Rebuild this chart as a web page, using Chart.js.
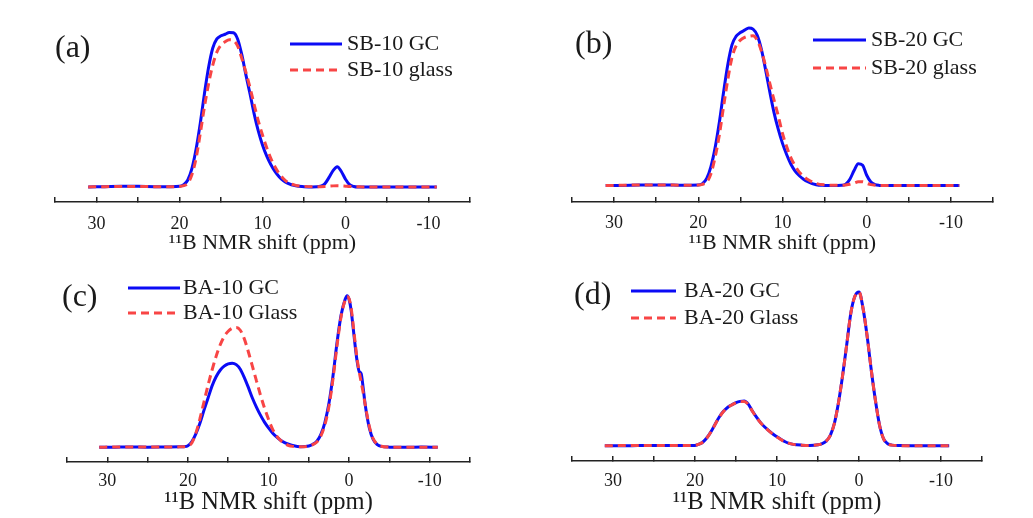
<!DOCTYPE html>
<html>
<head>
<meta charset="utf-8">
<script src="https://cdn.jsdelivr.net/npm/chart.js@4.4.1/dist/chart.umd.min.js"></script>
<style>
  html, body { margin: 0; padding: 0; background: #fff; }
  #fig { position: relative; width: 1033px; height: 518px; background: #fff; }
  .panel { position: absolute; }
</style>
</head>
<body>
<div id="fig">
  <div class="panel" style="left:0;top:0;width:516px;height:259px"><canvas id="chartA"></canvas></div>
  <div class="panel" style="left:516px;top:0;width:517px;height:259px"><canvas id="chartB"></canvas></div>
  <div class="panel" style="left:0;top:259px;width:516px;height:259px"><canvas id="chartC"></canvas></div>
  <div class="panel" style="left:516px;top:259px;width:517px;height:259px"><canvas id="chartD"></canvas></div>
</div>
<script>
// chemical shift grids (ppm) and normalised intensities
const ppmSB = [31, 29, 27, 25, 23, 21, 20, 19.5, 19, 18.5, 18, 17.5, 17, 16.5, 16, 15.5, 15, 14.5, 14, 13.5, 13, 12.5, 12, 11.5, 11, 10.5, 10, 9.5, 9, 8.5, 8, 7.5, 7, 6, 5, 4, 3, 2.5, 2, 1.5, 1, 0.5, 0, -0.5, -1, -1.5, -2, -3, -5, -7, -9, -11];

const sb10Gc = [0, 0.002, 0.004, 0.004, 0.002, 0.002, 0.004, 0.015, 0.045, 0.12, 0.245, 0.41, 0.6, 0.77, 0.895, 0.955, 0.975, 0.985, 0.997, 0.995, 0.955, 0.855, 0.723, 0.6, 0.47, 0.36, 0.271, 0.2, 0.145, 0.1, 0.066, 0.041, 0.025, 0.007, 0.002, 0, 0.005, 0.02, 0.06, 0.105, 0.131, 0.1, 0.05, 0.015, 0.003, 0, 0, 0, 0, 0, 0, 0];
const sb10Glass = [0, 0.002, 0.003, 0.003, 0.002, 0.002, 0.003, 0.008, 0.024, 0.08, 0.185, 0.345, 0.515, 0.665, 0.785, 0.87, 0.915, 0.937, 0.95, 0.945, 0.91, 0.83, 0.74, 0.64, 0.53, 0.425, 0.335, 0.255, 0.185, 0.13, 0.087, 0.055, 0.032, 0.01, 0.004, 0.002, 0.002, 0.003, 0.005, 0.007, 0.008, 0.007, 0.005, 0.003, 0.002, 0.001, 0, 0, 0, 0, 0, 0];

const sb20Gc = [0, 0.001, 0.003, 0.004, 0.003, 0.002, 0.003, 0.012, 0.045, 0.12, 0.24, 0.4, 0.59, 0.765, 0.89, 0.945, 0.968, 0.983, 0.997, 0.99, 0.95, 0.86, 0.73, 0.59, 0.46, 0.355, 0.267, 0.195, 0.135, 0.092, 0.062, 0.04, 0.024, 0.005, 0.001, 0, 0.002, 0.008, 0.04, 0.095, 0.138, 0.13, 0.065, 0.022, 0.006, 0.001, 0, 0, 0, 0, 0, 0];
const sb20Glass = [0, 0.002, 0.004, 0.004, 0.003, 0.002, 0.003, 0.008, 0.022, 0.075, 0.18, 0.32, 0.5, 0.67, 0.81, 0.885, 0.92, 0.937, 0.945, 0.948, 0.92, 0.85, 0.755, 0.645, 0.54, 0.44, 0.33, 0.245, 0.175, 0.125, 0.085, 0.058, 0.038, 0.013, 0.004, 0.002, 0.002, 0.004, 0.008, 0.016, 0.024, 0.024, 0.014, 0.006, 0.002, 0, 0, 0, 0, 0, 0, 0];

const ppmBA10 = [31, 29, 27, 25, 23, 21, 20.5, 20, 19.5, 19, 18.5, 18, 17.5, 17, 16.5, 16, 15.5, 15, 14.5, 14, 13.5, 13, 12.5, 12, 11.5, 11, 10.5, 10, 9.5, 9, 8.5, 8, 7.5, 7, 6, 5, 4.5, 4, 3.5, 3, 2.5, 2, 1.5, 1, 0.5, 0.25, 0, -0.25, -0.5, -0.75, -1, -1.25, -1.5, -1.75, -2, -2.5, -3, -3.5, -4, -5, -7, -9, -11];

const ba10Gc = [0, 0.001, 0.002, 0.001, 0.002, 0.003, 0.004, 0.01, 0.038, 0.09, 0.16, 0.245, 0.325, 0.405, 0.465, 0.508, 0.535, 0.55, 0.555, 0.545, 0.515, 0.46, 0.395, 0.325, 0.265, 0.212, 0.166, 0.128, 0.095, 0.068, 0.047, 0.031, 0.02, 0.012, 0.004, 0.008, 0.02, 0.04, 0.085, 0.165, 0.29, 0.47, 0.69, 0.87, 0.975, 1.0, 0.975, 0.905, 0.79, 0.67, 0.565, 0.5, 0.485, 0.39, 0.28, 0.13, 0.05, 0.018, 0.006, 0.001, 0, 0.002, 0];
const ba10Glass = [0, 0.002, 0.002, 0.002, 0.002, 0.003, 0.004, 0.008, 0.03, 0.095, 0.19, 0.3, 0.41, 0.51, 0.6, 0.675, 0.73, 0.765, 0.785, 0.79, 0.772, 0.715, 0.63, 0.535, 0.44, 0.345, 0.26, 0.185, 0.12, 0.075, 0.045, 0.026, 0.012, 0.006, 0.003, 0.008, 0.018, 0.035, 0.075, 0.15, 0.27, 0.45, 0.67, 0.86, 0.97, 0.995, 0.98, 0.92, 0.81, 0.69, 0.58, 0.5, 0.43, 0.36, 0.28, 0.14, 0.055, 0.02, 0.007, 0.001, 0, 0, 0];

const ppmBA20 = [31, 29, 27, 25, 23, 21, 20, 19.5, 19, 18.5, 18, 17.5, 17, 16.5, 16, 15.5, 15, 14.5, 14, 13.5, 13, 12.5, 12, 11.5, 11, 10.5, 10, 9.5, 9, 8.5, 8, 7, 6, 5, 4.5, 4, 3.5, 3, 2.5, 2, 1.5, 1, 0.5, 0, -0.5, -1, -1.5, -2, -2.5, -3, -3.5, -4, -5, -7, -9, -11];

const ba20Gc = [0, 0, 0.001, 0.002, 0.002, 0.002, 0.002, 0.01, 0.026, 0.055, 0.095, 0.145, 0.19, 0.225, 0.25, 0.266, 0.28, 0.288, 0.29, 0.27, 0.225, 0.185, 0.15, 0.122, 0.098, 0.076, 0.058, 0.041, 0.026, 0.015, 0.009, 0.004, 0.002, 0.006, 0.014, 0.03, 0.068, 0.145, 0.28, 0.455, 0.655, 0.86, 0.97, 0.998, 0.89, 0.708, 0.49, 0.295, 0.135, 0.045, 0.013, 0.004, 0.001, 0, 0, 0];
const ba20Glass = [0, 0.001, 0.001, 0.002, 0.002, 0.002, 0.003, 0.01, 0.025, 0.054, 0.094, 0.143, 0.188, 0.224, 0.249, 0.265, 0.278, 0.286, 0.287, 0.268, 0.224, 0.184, 0.149, 0.121, 0.097, 0.075, 0.057, 0.04, 0.026, 0.015, 0.009, 0.004, 0.002, 0.006, 0.014, 0.03, 0.068, 0.146, 0.28, 0.456, 0.655, 0.86, 0.97, 0.997, 0.89, 0.708, 0.49, 0.295, 0.135, 0.045, 0.013, 0.004, 0.001, 0, 0, 0];

const xTitle = '\u00b9\u00b9B NMR shift (ppm)';
const ink = '#1a1a1a';
const blue = '#0b0bf5';
const red = '#f84545';

Chart.defaults.font.family = '"Liberation Serif", "Times New Roman", serif';
Chart.defaults.color = ink;

function toPoints(ppm, vals) {
    return ppm.map((p, i) => ({x: p, y: vals[i]}));
}

// panel tag and in-plot legend (sample line + label for each dataset)
const panelDecor = {
    id: 'panelDecor',
    afterDraw(chart, args, opts) {
        const ctx = chart.ctx;
        ctx.save();
        ctx.fillStyle = ink;
        ctx.font = '32px "Liberation Serif"';
        ctx.textBaseline = 'alphabetic';
        ctx.textAlign = 'left';
        ctx.fillText(opts.tag, opts.tagX, opts.tagY);

        ctx.font = '22px "Liberation Serif"';
        ctx.textBaseline = 'middle';
        chart.data.datasets.forEach((ds, i) => {
            const y = opts.legendY + i * opts.rowGap;
            ctx.beginPath();
            ctx.strokeStyle = ds.borderColor;
            ctx.lineWidth = 3;
            ctx.setLineDash(ds.borderDash || []);
            ctx.moveTo(opts.legendX, y);
            ctx.lineTo(opts.legendX + opts.lineLen, y);
            ctx.stroke();
            ctx.setLineDash([]);
            ctx.fillText(ds.label, opts.legendX + opts.lineLen + opts.textGap, y);
        });
        ctx.restore();
    }
};

function makePanel(id, p) {
    new Chart(document.getElementById(id), {
        type: 'line',
        data: {
            datasets: [
                {
                    label: p.labels[0],
                    data: toPoints(p.ppm, p.gc),
                    borderColor: blue,
                    borderWidth: 3,
                    pointRadius: 0,
                    cubicInterpolationMode: 'monotone',
                    order: 1
                },
                {
                    label: p.labels[1],
                    data: toPoints(p.ppm, p.glass),
                    borderColor: red,
                    borderWidth: 3,
                    borderDash: [8, 5],
                    pointRadius: 0,
                    cubicInterpolationMode: 'monotone',
                    order: 0
                }
            ]
        },
        options: {
            responsive: true,
            maintainAspectRatio: false,
            animation: false,
            events: [],
            layout: {padding: {left: p.padLeft, right: p.padRight, top: 0, bottom: 0}},
            plugins: {
                legend: {display: false},
                tooltip: {enabled: false},
                panelDecor: p.decor
            },
            scales: {
                x: {
                    type: 'linear',
                    reverse: true,
                    min: -15,
                    max: 35,
                    afterFit: (scale) => { scale.height = p.axisHeight; },
                    border: {display: true, color: '#222', width: 1.6},
                    grid: {drawOnChartArea: false, drawTicks: true, tickLength: -5, color: '#222', lineWidth: 1.5},
                    ticks: {
                        stepSize: 5,
                        autoSkip: false,
                        maxRotation: 0,
                        padding: p.tickPad,
                        color: ink,
                        font: {size: 18},
                        callback: (v) => (v % 10 === 0 ? String(v) : '')
                    },
                    title: {
                        display: true,
                        text: xTitle,
                        color: ink,
                        font: {size: p.titleSize},
                        padding: {top: 0, bottom: p.titlePad}
                    }
                },
                y: {display: false, min: p.yMin, max: p.yMax}
            }
        },
        plugins: [panelDecor]
    });
}

makePanel('chartA', {
    ppm: ppmSB, gc: sb10Gc, glass: sb10Glass,
    labels: ['SB-10 GC', 'SB-10 glass'],
    padLeft: 55, padRight: 46, axisHeight: 57,
    yMin: -0.097, yMax: 1.206,
    tickPad: 16, titleSize: 22, titlePad: 3,
    decor: {tag: '(a)', tagX: 55, tagY: 57, legendX: 290, legendY: 44, rowGap: 26, lineLen: 52, textGap: 5}
});

makePanel('chartB', {
    ppm: ppmSB, gc: sb20Gc, glass: sb20Glass,
    labels: ['SB-20 GC', 'SB-20 glass'],
    padLeft: 56, padRight: 40, axisHeight: 57,
    yMin: -0.104, yMax: 1.174,
    tickPad: 15, titleSize: 22, titlePad: 3,
    decor: {tag: '(b)', tagX: 59, tagY: 53, legendX: 297, legendY: 40, rowGap: 28, lineLen: 53, textGap: 5}
});

makePanel('chartC', {
    ppm: ppmBA10, gc: ba10Gc, glass: ba10Glass,
    labels: ['BA-10 GC', 'BA-10 Glass'],
    padLeft: 67, padRight: 46, axisHeight: 56,
    yMin: -0.097, yMax: 1.242,
    tickPad: 13, titleSize: 24.5, titlePad: 1,
    decor: {tag: '(c)', tagX: 62, tagY: 47, legendX: 128, legendY: 29, rowGap: 25, lineLen: 52, textGap: 3}
});

makePanel('chartD', {
    ppm: ppmBA20, gc: ba20Gc, glass: ba20Glass,
    labels: ['BA-20 GC', 'BA-20 Glass'],
    padLeft: 56, padRight: 51, axisHeight: 57,
    yMin: -0.099, yMax: 1.212,
    tickPad: 14, titleSize: 24.5, titlePad: 1,
    decor: {tag: '(d)', tagX: 58, tagY: 45, legendX: 115, legendY: 32, rowGap: 27, lineLen: 45, textGap: 8}
});
</script>
</body>
</html>
